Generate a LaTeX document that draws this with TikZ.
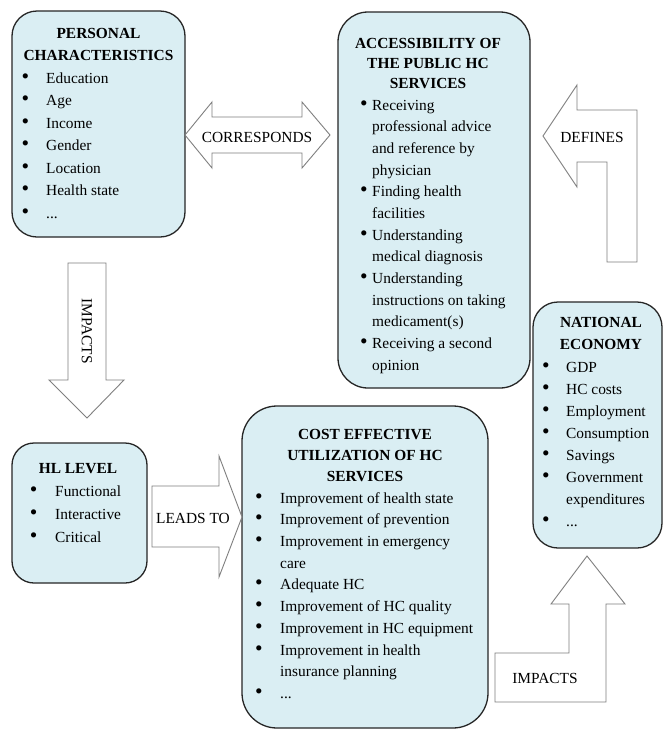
\documentclass[tikz,border=0pt]{standalone}
\usepackage{fontspec}
\setmainfont{Liberation Serif}
\definecolor{boxfill}{HTML}{DAEEF3}
\definecolor{arrowline}{HTML}{7F7F7F}
\newcommand\bu[1][24.7pt]{\makebox[#1][l]{\scalebox{1.4}{\textbullet}}}
\newcommand\ct[1]{\hspace*{#1}}
\tikzset{
  box/.style={draw=black!85, line width=1.3pt, fill=boxfill, rounded corners=#1, inner sep=0pt},
  blockarrow/.style={draw=arrowline, line width=0.9pt, fill=white, line join=miter},
  ttl/.style={anchor=north, align=center, inner sep=0pt, font=\bfseries\fontsize{15.4}{#1}\selectfont},
  lst/.style={anchor=north west, align=left, inner sep=0pt, font=\fontsize{15.4}{#1}\selectfont},
  lbl/.style={anchor=base, inner sep=0pt, font=\fontsize{15.4}{18}\selectfont},
}
\begin{document}
\begin{tikzpicture}[x=1pt,y=-1pt]
\fill[white] (0,0) rectangle (663,729);
\useasboundingbox (0,0) rectangle (663,729);
\begin{scope}
\clip (0,0) rectangle (663,729);
% boxes
\node[box=25pt, minimum width=173pt, minimum height=226pt] (pc) at (98.5,124) {};
\node[box=30pt, minimum width=192pt, minimum height=376pt] (acc) at (434,200) {};
\node[box=25pt, minimum width=129pt, minimum height=246pt] (ne) at (597.5,425) {};
\node[box=22pt, minimum width=135pt, minimum height=140pt] (hl) at (79.5,513) {};
\node[box=35pt, minimum width=246pt, minimum height=322pt] (cost) at (365,567) {};
\end{scope}

% block arrows
\draw[blockarrow] (185,135) -- (212,102) -- (212,117) -- (302,117) -- (302,102) -- (330,135)
  -- (302,168) -- (302,153) -- (212,153) -- (212,168) -- cycle;
\draw[blockarrow] (543,136) -- (577,85) -- (577,110) -- (637,110) -- (637,262) -- (607,262)
  -- (607,162) -- (577,162) -- (577,187) -- cycle;
\draw[blockarrow] (587,556) -- (625,604) -- (606,604) -- (606,702) -- (495,702) -- (495,653)
  -- (569,653) -- (569,604) -- (551,604) -- cycle;
\draw[blockarrow] (68,263) -- (106,263) -- (106,380) -- (124,380) -- (87,418) -- (49,380)
  -- (68,380) -- cycle;
\draw[blockarrow] (152,486) -- (219,486) -- (219,456) -- (242,517) -- (219,577) -- (219,547)
  -- (152,547) -- cycle;

% arrow labels
\node[lbl] (corr) at (257,142) {CORRESPONDS};
\node[lbl] (def) at (592,142) {DEFINES};
\node[lbl] (leads) at (193,523) {LEADS TO};
\node[lbl] (imp2) at (545,683) {IMPACTS};
\node[inner sep=0pt, font=\fontsize{15.4}{18}\selectfont, rotate=-90] (imp1) at (87,331) {IMPACTS};

% personal characteristics
\node[ttl=22] (pct) at (98.5,22.6) {\strut PERSONAL\\CHARACTERISTICS};
\node[lst=22.5] (pcl) at (21.3,67.25) {\strut\bu Education\\ \bu Age\\ \bu Income\\ \bu Gender\\
  \bu Location\\ \bu Health state\\ \bu ...};

% accessibility
\node[ttl=20.3] (acct) at (428,33.8) {\strut ACCESSIBILITY OF\\THE PUBLIC HC\\SERVICES};
\node[lst=21.67] (accl) at (359.8,94.8) {\strut\bu[12.2pt]Receiving\\
  \ct{12.2pt}professional advice\\
  \ct{12.2pt}and reference by\\
  \ct{12.2pt}physician\\
  \bu[12.2pt]Finding health\\
  \ct{12.2pt}facilities\\
  \bu[12.2pt]Understanding\\
  \ct{12.2pt}medical diagnosis\\
  \bu[12.2pt]Understanding\\
  \ct{12.2pt}instructions on taking\\
  \ct{12.2pt}medicament(s)\\
  \bu[12.2pt]Receiving a second\\
  \ct{12.2pt}opinion};

% national economy
\node[ttl=22] (net) at (601,311.6) {\strut NATIONAL\\ECONOMY};
\node[lst=22.1] (nel) at (541.8,356.5) {\strut\bu[24.2pt]GDP\\ \bu[24.2pt]HC costs\\
  \bu[24.2pt]Employment\\ \bu[24.2pt]Consumption\\ \bu[24.2pt]Savings\\
  \bu[24.2pt]Government\\ \ct{24.2pt}expenditures\\ \bu[24.2pt]...};

% HL level
\node[anchor=base, inner sep=0pt, font=\bfseries\fontsize{15.4}{18}\selectfont] (hlt) at (78,473) {HL LEVEL};
\node[lst=23] (hll) at (29.8,479.9) {\strut\bu[25.2pt]Functional\\ \bu[25.2pt]Interactive\\ \bu[25.2pt]Critical};

% cost effective
\node[ttl=21] (costt) at (365,424.3) {\strut COST EFFECTIVE\\UTILIZATION OF HC\\SERVICES};
\node[lst=21.7] (costl) at (254.8,487.8) {\strut\bu[25.2pt]Improvement of health state\\
  \bu[25.2pt]Improvement of prevention\\
  \bu[25.2pt]Improvement in emergency\\
  \ct{25.2pt}care\\
  \bu[25.2pt]Adequate HC\\
  \bu[25.2pt]Improvement of HC quality\\
  \bu[25.2pt]Improvement in HC equipment\\
  \bu[25.2pt]Improvement in health\\
  \ct{25.2pt}insurance planning\\
  \bu[25.2pt]...};
\end{tikzpicture}
\end{document}
